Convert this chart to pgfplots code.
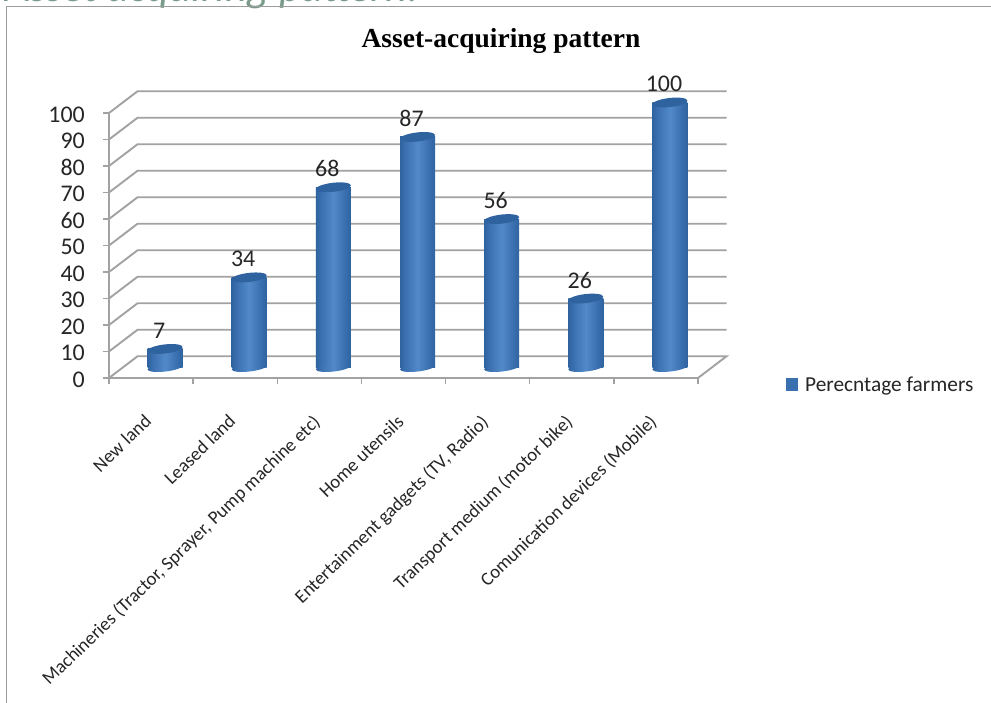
\documentclass[border=0pt]{standalone}
\usepackage{pgfplots}
\pgfplotsset{compat=1.18}
\usepackage{fontspec}
\setmainfont{Carlito}
\newfontfamily\titlefont{Liberation Serif}

\definecolor{gridgrey}{HTML}{A2A2A2}
\definecolor{framegrey}{HTML}{9C9C9C}
\definecolor{bardark}{HTML}{2F63A0}
\definecolor{barmid}{HTML}{3A70B0}
\definecolor{barlight}{HTML}{5289C8}
\definecolor{headteal}{HTML}{7A9A8A}

% Horizontal colour ramp that gives each column its rounded look
\pgfdeclarehorizontalshading{cylinderbody}{100bp}{
  color(0bp)=(bardark); color(25bp)=(bardark); color(32bp)=(barmid);
  color(50bp)=(barlight); color(66bp)=(barmid); color(75bp)=(bardark); color(100bp)=(bardark)}

% Slightly tilted ellipses for the column ends
\pgfdeclareplotmark{cyltop}{%
  \pgfpathellipse{\pgfpointorigin}{\pgfpoint{17.5bp}{2bp}}{\pgfpoint{-0.5bp}{4.5bp}}%
  \pgfusepathqfill}
\pgfdeclareplotmark{cylbase}{%
  \pgfpathellipse{\pgfpointorigin}{\pgfpoint{17.5bp}{2bp}}{\pgfpoint{-0.5bp}{4bp}}%
  \pgfshadepath{cylinderbody}{0}\pgfusepath{discard}}

\pgfplotstableread{
x    pct
0.5  7
1.5  34
2.5  68
3.5  87
4.5  56
5.5  26
6.5  100
}\assets

\pgfplotstableread{
x    pct
0.5  0
1.5  0
2.5  0
3.5  0
4.5  0
5.5  0
6.5  0
}\bases

\pgfplotsset{
  wall/.style={gridgrey,line width=1.9bp},
  column/.style={ybar,bar width=35bp,draw=none,shade,shading=cylinderbody,xshift=14bp,yshift=10.5bp},
}

\begin{document}
\begin{tikzpicture}[x=1bp,y=1bp]
  \useasboundingbox (0,0) rectangle (991,703);
  \fill[white] (0,0) rectangle (991,703);
  % Heading of the page section, cut by the top edge
  \begin{scope}
    \clip (0,0) rectangle (991,703);
    \node[anchor=base west,text=headteal,font=\fontsize{43}{43}\selectfont\itshape,inner sep=0pt]
      at (5,701.5) {Asset acquiring pattern:};
  \end{scope}
  % Chart frame
  \draw[framegrey,line width=1.8bp] (6.5,0) -- (6.5,696.5) -- (991,696.5);

  \begin{axis}[
    at={(109bp,325bp)}, anchor=origin,
    scale only axis, width=589bp, height=265bp,
    xmin=0, xmax=7, ymin=0, ymax=100,
    clip=false,
    axis line style={gridgrey,line width=1.9bp},
    axis x line*=bottom, axis y line*=left,
    xtick={0,...,7}, ytick={0,10,...,100},
    xticklabels={},
    extra x ticks={0.5,1.5,2.5,3.5,4.5,5.5,6.5},
    extra x tick style={major tick length=0pt},
    extra x tick labels={New land,Leased land,{Machineries (Tractor, Sprayer, Pump machine etc)},Home utensils,{Entertainment gadgets (TV, Radio)},Transport medium (motor bike),Comunication devices (Mobile)},
    tick style={gridgrey,line width=1.4bp},
    major tick length=6bp,
    tick align=outside,
    /pgf/number format/assume math mode=true,
    yticklabel style={font=\fontsize{24}{24}\selectfont,text=black!85,inner sep=0pt,xshift=-18bp,yshift=-1.5bp},
    xticklabel style={font=\fontsize{18.9}{18.9}\selectfont,text=black!85,rotate=44,anchor=north east,inner sep=0pt,xshift=-30bp,yshift=-20bp},
  ]
    % Back wall gridlines and the side wall running to them
    \addplot[wall] coordinates {(0,0) (0.339,8.2) (7.339,8.2) (7,0)};
    \addplot[wall] coordinates {(0,10) (0.339,18.2) (7.339,18.2)};
    \addplot[wall] coordinates {(0,20) (0.339,28.2) (7.339,28.2)};
    \addplot[wall] coordinates {(0,30) (0.339,38.2) (7.339,38.2)};
    \addplot[wall] coordinates {(0,40) (0.339,48.2) (7.339,48.2)};
    \addplot[wall] coordinates {(0,50) (0.339,58.2) (7.339,58.2)};
    \addplot[wall] coordinates {(0,60) (0.339,68.2) (7.339,68.2)};
    \addplot[wall] coordinates {(0,70) (0.339,78.2) (7.339,78.2)};
    \addplot[wall] coordinates {(0,80) (0.339,88.2) (7.339,88.2)};
    \addplot[wall] coordinates {(0,90) (0.339,98.2) (7.339,98.2)};
    \addplot[wall] coordinates {(0,100) (0.339,108.2) (7.339,108.2)};

    % Columns: lower end, shaded body, upper end with its value
    \addplot[only marks,mark=cylbase,xshift=14bp,yshift=10.5bp] table[x=x,y=pct] {\bases};
    \addplot[column] coordinates {(0.5,7)};
    \addplot[column] coordinates {(1.5,34)};
    \addplot[column] coordinates {(2.5,68)};
    \addplot[column] coordinates {(3.5,87)};
    \addplot[column] coordinates {(4.5,56)};
    \addplot[column] coordinates {(5.5,26)};
    \addplot[column] coordinates {(6.5,100)};
    \addplot[only marks,mark=cyltop,color=bardark,xshift=14bp,yshift=10.5bp,
      nodes near coords,
      every node near coord/.append style={font=\fontsize{24}{24}\selectfont,text=black!85,
        anchor=center,xshift=-6bp,yshift=18.5bp,inner sep=0pt}]
      table[x=x,y=pct] {\assets};
  \end{axis}

  % Chart title and legend
  \node[font=\titlefont\bfseries\fontsize{27.6}{27.6}\selectfont,anchor=center] at (501,662) {Asset-acquiring pattern};
  \fill[barmid] (786,312) rectangle (798,325);
  \node[anchor=west,font=\fontsize{21.4}{21.4}\selectfont,text=black!85,inner sep=0pt] at (805,317) {Perecntage farmers};
\end{tikzpicture}
\end{document}
